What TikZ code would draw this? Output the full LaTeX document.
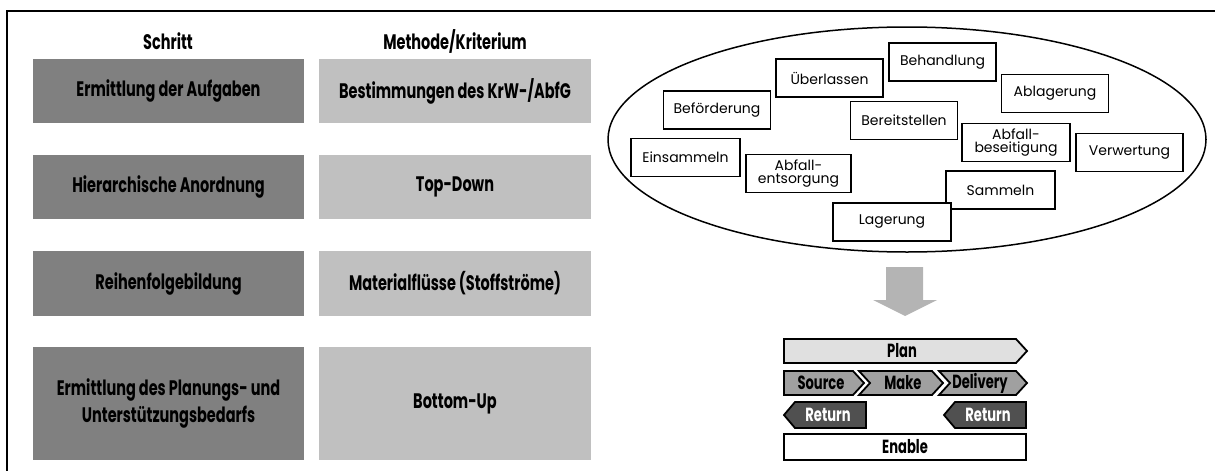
\documentclass[tikz,border=0pt]{standalone}
\usepackage{fontspec}
\setmainfont{Poppins}
\newfontfamily\condbold{Poppins}[FakeStretch=0.69]
\usetikzlibrary{shapes.geometric}

\definecolor{stepgray}{HTML}{808080}
\definecolor{critgray}{HTML}{C0C0C0}
\definecolor{planfill}{HTML}{E0E0E0}
\definecolor{flowfill}{HTML}{A0A0A0}
\definecolor{retfill}{HTML}{505050}
\definecolor{arrowgray}{HTML}{B4B4B4}

\tikzset{
  cond/.style={font=\condbold\bfseries\fontsize{#1}{#1}\selectfont},
  headtext/.style={cond=21, text=black},
  stepbox/.style={fill=stepgray, minimum width=271, minimum height=#1,
    inner sep=0pt, align=center, cond=21, text=black},
  critbox/.style={fill=critgray, minimum width=272, minimum height=#1,
    inner sep=0pt, align=center, cond=21, text=black},
  taskbox/.style={draw=black, line width=1.8pt, fill=white,
    minimum width=#1, minimum height=38, inner sep=0pt, align=center,
    font=\fontsize{14}{12.5}\selectfont},
  taskbox/.default=107,
  scorbar/.style={draw=black, line width=1.8pt, line join=miter},
  scortext/.style={cond=19, inner sep=0pt},
}

\begin{document}
\begin{tikzpicture}[x=1pt, y=-1pt]
\useasboundingbox (0,0) rectangle (1215,471);

% frame
\draw[line width=2pt] (7,471) -- (7,11) -- (1215,11);

% column headings
\node[headtext] (hstep) at (168,41) {Schritt};
\node[headtext] (hcrit) at (455,41) {Methode/Kriterium};

% steps and criteria
\node[stepbox=64]  (s1) at (168.5,91)    {Ermittlung der Aufgaben};
\node[stepbox=64]  (s2) at (168.5,187)   {Hierarchische Anordnung};
\node[stepbox=65]  (s3) at (168.5,283.5) {Reihenfolgebildung};
\node[stepbox=113] (s4) at (168.5,403.5) {Ermittlung des Planungs- und\\[4pt]Unterstützungsbedarfs};

\node[critbox=64]  (c1) at (455,91)    {Bestimmungen des KrW-/AbfG};
\node[critbox=64]  (c2) at (455,187)   {Top-Down};
\node[critbox=65]  (c3) at (455,283.5) {Materialflüsse (Stoffströme)};
\node[critbox=113] (c4) at (455,403.5) {Bottom-Up};

% pool of tasks
\node[ellipse, draw=black, line width=1.5pt, minimum width=598, minimum height=225, inner sep=0pt]
  (pool) at (907,139.5) {};
\node[taskbox] (t1)  at (942.5,62)    {Behandlung};
\node[taskbox] (t2)  at (829.5,78)    {Überlassen};
\node[taskbox] (t3)  at (1055,93.5)   {Ablagerung};
\node[taskbox] (t4)  at (717,110)     {Beförderung};
\node[taskbox] (t5)  at (904,120.5)   {Bereitstellen};
\node[taskbox=108] (t6)  at (1016,142.5) {Abfall-\\beseitigung};
\node[taskbox] (t7)  at (1129.5,152.5) {Verwertung};
\node[taskbox=109] (t8)  at (685.5,157.5) {Einsammeln};
\node[taskbox=105] (t9)  at (798.5,173.5) {Abfall-\\entsorgung};
\node[taskbox=109] (t10) at (1000.5,190)  {Sammeln};
\node[taskbox=118] (t11) at (892,222)     {Lagerung};

% transition arrow
\fill[arrowgray] (886,267) -- (923,267) -- (923,300) -- (937,300) -- (905,316)
  -- (873,300) -- (886,300) -- cycle;

% SCOR bars
\draw[scorbar, fill=planfill] (784,339) -- (1016,339) -- (1027,351) -- (1016,363) -- (784,363) -- cycle;
\node[scortext] (plan) at (902,351) {Plan};

\draw[scorbar, fill=flowfill] (784,371) -- (853,371) -- (864,383) -- (853,395) -- (784,395) -- cycle;
\node[scortext] (source) at (821,383) {Source};
\draw[scorbar, fill=flowfill] (859,371) -- (932,371) -- (943,383) -- (932,395) -- (859,395) -- (870,383) -- cycle;
\node[scortext] (make) at (903,383) {Make};
\draw[scorbar, fill=flowfill] (939,371) -- (1016,371) -- (1027,383) -- (1016,395) -- (939,395) -- (950,383) -- cycle;
\node[scortext] (delivery) at (980,383) {Delivery};

\draw[scorbar, fill=retfill] (784,415) -- (795,402) -- (866,402) -- (866,428) -- (795,428) -- cycle;
\node[scortext, text=white] (ret1) at (828,415) {Return};
\draw[scorbar, fill=retfill] (944,415) -- (955,402) -- (1026,402) -- (1026,428) -- (955,428) -- cycle;
\node[scortext, text=white] (ret2) at (988,415) {Return};

\draw[scorbar, fill=white] (784,434) rectangle (1026,460);
\node[scortext] (enable) at (905,447) {Enable};
\end{tikzpicture}
\end{document}
